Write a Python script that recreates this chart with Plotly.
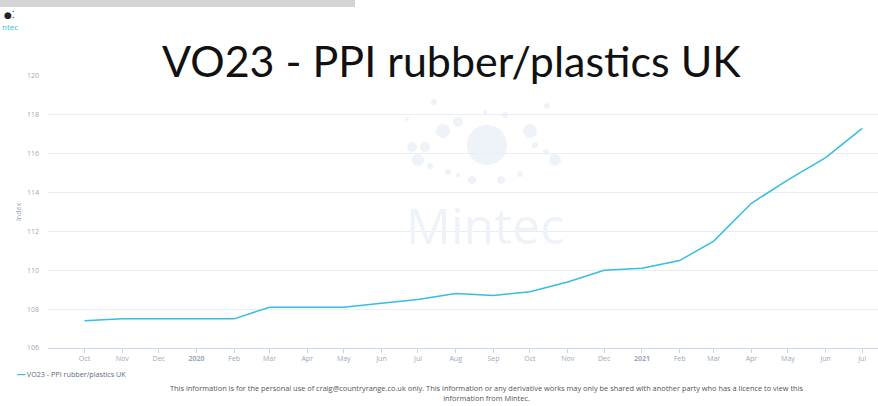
import plotly.graph_objects as go

# Monthly PPI index, rubber/plastics, UK
months = ["2019-10-01", "2019-11-01", "2019-12-01", "2020-01-01", "2020-02-01",
          "2020-03-01", "2020-04-01", "2020-05-01", "2020-06-01", "2020-07-01",
          "2020-08-01", "2020-09-01", "2020-10-01", "2020-11-01", "2020-12-01",
          "2021-01-01", "2021-02-01", "2021-03-01", "2021-04-01", "2021-05-01",
          "2021-06-01", "2021-07-01"]
index_values = [107.4, 107.5, 107.5, 107.5, 107.5,
                108.1, 108.1, 108.1, 108.3, 108.5,
                108.8, 108.7, 108.9, 109.4, 110.0,
                110.1, 110.5, 111.5, 113.45, 114.65,
                115.8, 117.3]

tick_labels = ["Oct", "Nov", "Dec", "<b>2020</b>", "Feb", "Mar", "Apr", "May", "Jun",
               "Jul", "Aug", "Sep", "Oct", "Nov", "Dec", "<b>2021</b>", "Feb", "Mar",
               "Apr", "May", "Jun", "Jul"]
y_ticks = [106, 108, 110, 112, 114, 116, 118, 120]

series_name = "VO23 - PPI rubber/plastics UK"
title_text = "VO23 - PPI rubber/plastics UK"
footer_text = ("This information is for the personal use of craig@countryrange.co.uk only. "
               "This information or any derivative works may only be shared with another party "
               "who has a licence to view this<br>information from Mintec.")

W, H = 878, 406
L, R, T, B = 48, 0, 76, 58
LINE = "#35bde3"
TICK = "#9aaabb"
GRID = "#e9eef4"
WM = "#eef3f9"

fig = go.Figure()
fig.add_trace(go.Scatter(
    x=months, y=index_values, mode="lines", name=series_name,
    line=dict(color=LINE, width=1.5), showlegend=False,
))

fig.update_layout(
    width=W, height=H,
    margin=dict(l=L, r=R, t=T, b=B),
    paper_bgcolor="white", plot_bgcolor="white",
    font=dict(family="Open Sans", size=7, color=TICK),
    xaxis=dict(
        type="date",
        range=["2019-09-01", "2021-07-14"],
        tickvals=months, ticktext=tick_labels,
        showgrid=False, zeroline=False,
        showline=True, linecolor="#c8d6e6", linewidth=1,
        ticks="outside", ticklen=4, tickcolor="#c8d6e6",
        tickfont=dict(size=7, color=TICK),
    ),
    yaxis=dict(
        range=[106, 120], tickvals=y_ticks,
        showgrid=True, gridcolor=GRID, gridwidth=1,
        zeroline=False, showline=False,
        ticks="", ticklabelstandoff=8,
        tickfont=dict(size=7, color=TICK),
        title=dict(text="Index", font=dict(size=7, color=TICK), standoff=4),
    ),
)

# Mintec watermark: dotted ring of circles around a large disc
wm_circles = [
    (487, 145, 20), (443, 131, 7), (458, 122, 5), (412, 147, 5), (425, 147, 5),
    (418, 160, 6), (430, 166, 3), (530, 131, 7), (535, 145, 3), (555, 160, 6),
    (546, 152, 3), (472, 180, 4), (501, 180, 4), (448, 172, 3), (434, 102, 3),
    (547, 106, 3), (485, 112, 2), (505, 115, 3), (520, 174, 3), (458, 175, 2),
    (407, 119, 2),
]
shapes = []
for cx, cy, r in wm_circles:
    shapes.append(dict(type="circle", xref="paper", yref="paper", layer="below",
                       x0=(cx - r - L) / (W - L - R), x1=(cx + r - L) / (W - L - R),
                       y0=(H - B - (cy + r)) / (H - T - B), y1=(H - B - (cy - r)) / (H - T - B),
                       fillcolor=WM, line=dict(width=0)))

# grey strip at top-left
shapes.append(dict(type="rect", xref="paper", yref="paper", layer="above",
                   x0=(0 - L) / (W - L - R), x1=(355 - L) / (W - L - R),
                   y0=(H - B - 7) / (H - T - B), y1=(H - B) / (H - T - B) + 1,
                   fillcolor="#d4d4d4", line=dict(width=0)))

annotations = [
    dict(text="Mintec", x=485, y=225, showarrow=False,
         font=dict(family="Open Sans", size=50, color=WM)),
    dict(text=title_text, x=451, y=61, showarrow=False,
         font=dict(family="Lato", size=43, color="#111111")),
    dict(text="ntec", x=0, y=27, xanchor="left", showarrow=False,
         font=dict(family="Open Sans", size=8, color="#35bde3")),
    dict(text="●⁚", x=2, y=15, xanchor="left", showarrow=False,
         font=dict(family="DejaVu Sans", size=9, color="#222222")),
    dict(text="<span style='color:%s'>━━</span> %s" % (LINE, series_name),
         x=14, y=374, xanchor="left", showarrow=False,
         font=dict(family="Open Sans", size=7.2, color="#5a6b7d")),
    dict(text=footer_text, x=487, y=405, yanchor="bottom", showarrow=False,
         font=dict(family="Open Sans", size=7.4, color="#555555")),
]
# convert pixel anchors to paper coordinates
for a in annotations:
    a["xref"] = "paper"
    a["yref"] = "paper"
    a["x"] = (a["x"] - L) / (W - L - R)
    a["y"] = (H - B - a["y"]) / (H - T - B)
    a.setdefault("yanchor", "middle")
fig.update_layout(shapes=shapes, annotations=annotations)

fig.write_html("out.html")
